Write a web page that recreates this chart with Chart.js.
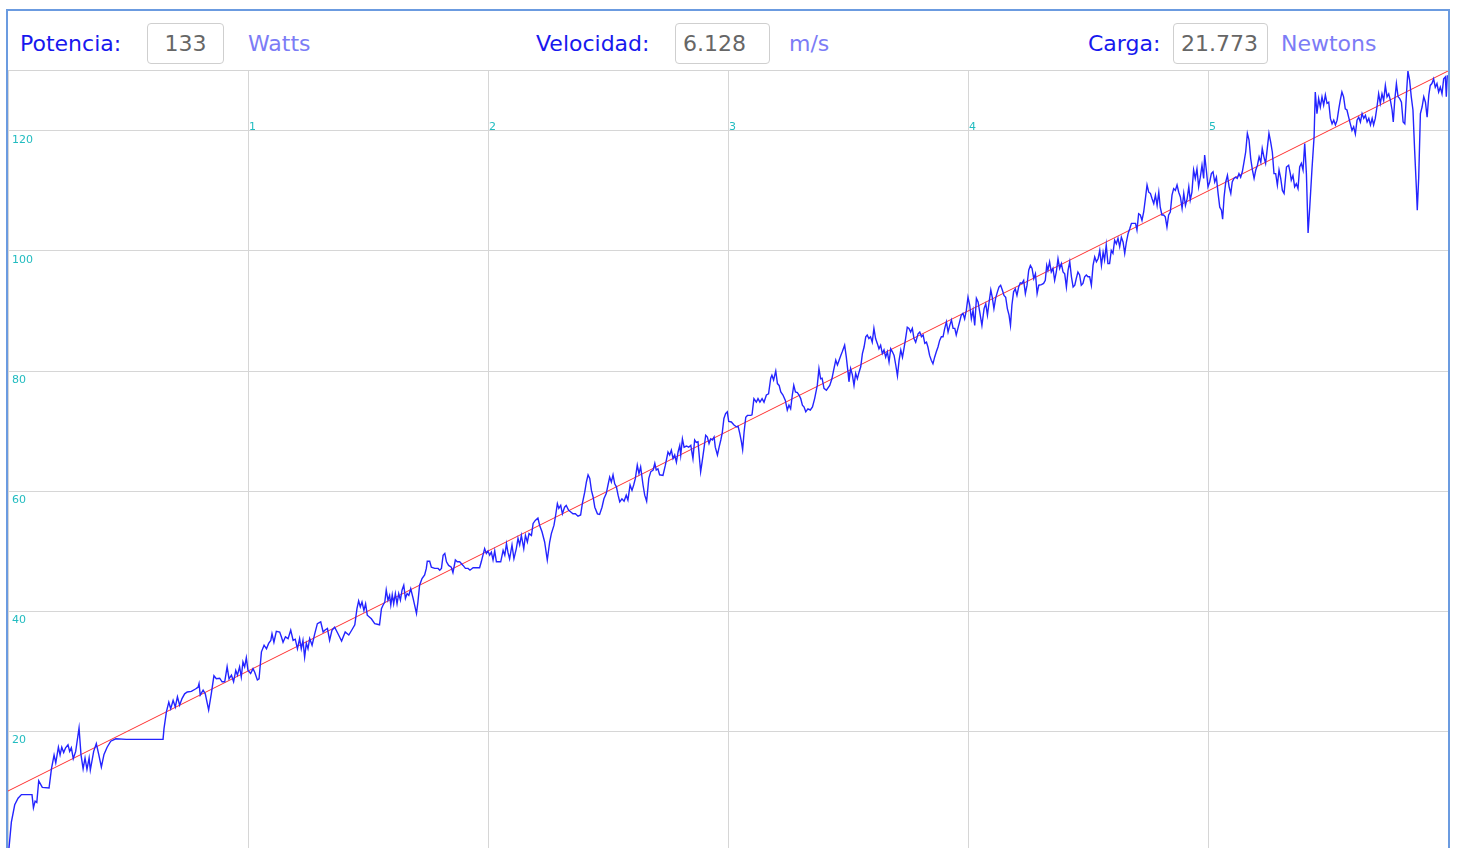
<!DOCTYPE html>
<html lang="es">
<head>
    <meta charset="UTF-8">
    <title>Potencia</title>
    <script src="https://cdn.jsdelivr.net/npm/chart.js"></script>
    <style>
        body {
            margin: 0;
            background: #fff;
            font-family: 'DejaVu Sans', sans-serif;
            width: 1457px;
            height: 848px;
            overflow: hidden;
            position: relative;
        }
        .marco {
            position: absolute;
            left: 6px;
            top: 9px;
            width: 1440px;
            height: 900px;
            border: 2px solid #6b9be0;
            border-bottom: none;
        }
        .divisor {
            position: absolute;
            left: 8px;
            top: 70px;
            width: 1440px;
            height: 1px;
            background: #d4d4d4;
        }
        .txt {
            position: absolute;
            top: 23px;
            line-height: 41px;
            font-size: 22px;
            white-space: nowrap;
        }
        .etq { color: #1818ee; }
        .uni { color: #7c7cf6; }
        .caja {
            position: absolute;
            top: 23px;
            height: 41px;
            box-sizing: border-box;
            border: 1px solid #cfcfcf;
            border-radius: 4px;
            line-height: 39px;
            font-size: 22px;
            color: #666;
            padding-left: 7px;
        }
        .grafico {
            position: absolute;
            left: 8px;
            top: 71px;
            width: 1440px;
            height: 780px;
        }
    </style>
</head>
<body>
    <div class="marco"></div>
    <span class="txt etq" style="left:20px">Potencia:</span>
    <div class="caja" style="left:147px;width:77px;padding-left:0;text-align:center">133</div>
    <span class="txt uni" style="left:248px">Watts</span>
    <span class="txt etq" style="left:536px">Velocidad:</span>
    <div class="caja" style="left:675px;width:95px">6.128</div>
    <span class="txt uni" style="left:789px">m/s</span>
    <span class="txt etq" style="left:1088px">Carga:</span>
    <div class="caja" style="left:1173px;width:95px">21.773</div>
    <span class="txt uni" style="left:1281px">Newtons</span>
    <div class="divisor"></div>
    <div class="grafico"><canvas id="grafica"></canvas></div>

    <script>
        // Serie medida (eje x en minutos, eje y en vatios)
        const tiempo = [
            0.003, 0.014, 0.028, 0.042, 0.056, 0.100, 0.106, 0.113, 0.120, 0.128,
            0.143, 0.171, 0.181, 0.192, 0.199, 0.210, 0.217, 0.224, 0.232, 0.240,
            0.250, 0.257, 0.264, 0.272, 0.282, 0.296, 0.304, 0.313, 0.321, 0.329,
            0.338, 0.343, 0.357, 0.368, 0.378, 0.389, 0.400, 0.413, 0.428, 0.449,
            0.493, 0.646, 0.650, 0.660, 0.670, 0.678, 0.688, 0.697, 0.706, 0.715,
            0.725, 0.736, 0.747, 0.764, 0.781, 0.792, 0.796, 0.801, 0.813, 0.822,
            0.836, 0.847, 0.858, 0.868, 0.882, 0.892, 0.903, 0.913, 0.921, 0.931,
            0.940, 0.949, 0.956, 0.965, 0.972, 0.979, 0.986, 0.993, 1.000, 1.011,
            1.021, 1.028, 1.039, 1.046, 1.056, 1.067, 1.077, 1.086, 1.095, 1.100,
            1.108, 1.118, 1.132, 1.139, 1.146, 1.156, 1.167, 1.178, 1.188, 1.197,
            1.206, 1.215, 1.222, 1.229, 1.236, 1.243, 1.250, 1.257, 1.267, 1.278,
            1.289, 1.303, 1.313, 1.320, 1.331, 1.340, 1.350, 1.361, 1.375, 1.390,
            1.405, 1.420, 1.435, 1.445, 1.454, 1.461, 1.468, 1.475, 1.483, 1.490,
            1.497, 1.514, 1.528, 1.548, 1.556, 1.563, 1.570, 1.576, 1.583, 1.590,
            1.595, 1.601, 1.607, 1.614, 1.621, 1.628, 1.635, 1.642, 1.649, 1.656,
            1.663, 1.670, 1.678, 1.688, 1.702, 1.708, 1.715, 1.725, 1.736, 1.743,
            1.747, 1.757, 1.764, 1.778, 1.792, 1.799, 1.806, 1.813, 1.820, 1.827,
            1.836, 1.847, 1.854, 1.864, 1.872, 1.882, 1.896, 1.906, 1.917, 1.925,
            1.938, 1.952, 1.965, 1.972, 1.979, 1.986, 1.993, 2.000, 2.007, 2.014,
            2.021, 2.028, 2.035, 2.053, 2.063, 2.070, 2.077, 2.083, 2.090, 2.100,
            2.108, 2.118, 2.125, 2.132, 2.139, 2.149, 2.156, 2.164, 2.171, 2.181,
            2.188, 2.197, 2.208, 2.215, 2.225, 2.236, 2.247, 2.257, 2.264, 2.275,
            2.282, 2.289, 2.295, 2.303, 2.310, 2.319, 2.326, 2.336, 2.345, 2.354,
            2.364, 2.375, 2.386, 2.393, 2.403, 2.410, 2.417, 2.424, 2.431, 2.438,
            2.445, 2.456, 2.465, 2.475, 2.483, 2.493, 2.500, 2.507, 2.514, 2.521,
            2.528, 2.535, 2.542, 2.549, 2.558, 2.567, 2.576, 2.583, 2.592, 2.600,
            2.607, 2.614, 2.622, 2.629, 2.636, 2.646, 2.653, 2.661, 2.670, 2.678,
            2.688, 2.695, 2.701, 2.708, 2.715, 2.729, 2.739, 2.750, 2.757, 2.764,
            2.771, 2.778, 2.785, 2.792, 2.799, 2.803, 2.810, 2.817, 2.827, 2.836,
            2.845, 2.854, 2.861, 2.868, 2.875, 2.886, 2.892, 2.900, 2.907, 2.914,
            2.921, 2.928, 2.935, 2.942, 2.947, 2.956, 2.963, 2.970, 2.976, 2.983,
            2.990, 2.997, 3.003, 3.014, 3.025, 3.035, 3.042, 3.049, 3.056, 3.061,
            3.067, 3.074, 3.081, 3.095, 3.100, 3.108, 3.118, 3.125, 3.133, 3.142,
            3.150, 3.160, 3.169, 3.178, 3.183, 3.190, 3.199, 3.206, 3.213, 3.220,
            3.229, 3.239, 3.247, 3.254, 3.261, 3.268, 3.274, 3.281, 3.289, 3.296,
            3.303, 3.310, 3.317, 3.324, 3.333, 3.343, 3.352, 3.361, 3.372, 3.379,
            3.386, 3.392, 3.400, 3.410, 3.424, 3.433, 3.440, 3.449, 3.456, 3.463,
            3.470, 3.476, 3.486, 3.493, 3.500, 3.504, 3.511, 3.518, 3.525, 3.532,
            3.539, 3.546, 3.553, 3.560, 3.567, 3.574, 3.580, 3.587, 3.594, 3.601,
            3.608, 3.615, 3.622, 3.629, 3.636, 3.643, 3.650, 3.657, 3.664, 3.671,
            3.678, 3.685, 3.692, 3.699, 3.706, 3.713, 3.720, 3.727, 3.733, 3.740,
            3.747, 3.754, 3.761, 3.768, 3.775, 3.782, 3.792, 3.799, 3.806, 3.813,
            3.820, 3.827, 3.833, 3.840, 3.847, 3.854, 3.861, 3.868, 3.875, 3.882,
            3.889, 3.896, 3.903, 3.910, 3.917, 3.924, 3.931, 3.938, 3.945, 3.951,
            3.958, 3.965, 3.972, 3.979, 3.986, 3.993, 4.000, 4.007, 4.014, 4.021,
            4.028, 4.035, 4.042, 4.049, 4.058, 4.067, 4.074, 4.081, 4.088, 4.095,
            4.101, 4.108, 4.115, 4.122, 4.129, 4.136, 4.143, 4.150, 4.157, 4.164,
            4.171, 4.177, 4.183, 4.190, 4.197, 4.204, 4.211, 4.218, 4.225, 4.232,
            4.239, 4.246, 4.253, 4.260, 4.267, 4.274, 4.281, 4.288, 4.295, 4.306,
            4.315, 4.322, 4.328, 4.333, 4.340, 4.347, 4.354, 4.361, 4.368, 4.375,
            4.382, 4.389, 4.396, 4.403, 4.410, 4.417, 4.424, 4.431, 4.438, 4.445,
            4.451, 4.458, 4.465, 4.472, 4.479, 4.486, 4.493, 4.500, 4.507, 4.514,
            4.521, 4.528, 4.535, 4.542, 4.549, 4.556, 4.563, 4.569, 4.576, 4.583,
            4.590, 4.597, 4.604, 4.611, 4.618, 4.625, 4.632, 4.639, 4.646, 4.653,
            4.660, 4.667, 4.674, 4.681, 4.698, 4.704, 4.711, 4.718, 4.725, 4.732,
            4.739, 4.746, 4.753, 4.760, 4.767, 4.774, 4.781, 4.788, 4.795, 4.801,
            4.808, 4.815, 4.822, 4.829, 4.836, 4.843, 4.850, 4.857, 4.864, 4.871,
            4.878, 4.885, 4.892, 4.899, 4.906, 4.913, 4.920, 4.926, 4.933, 4.940,
            4.947, 4.954, 4.961, 4.968, 4.975, 4.982, 4.986, 4.993, 5.000, 5.007,
            5.014, 5.021, 5.028, 5.035, 5.042, 5.049, 5.056, 5.061, 5.067, 5.074,
            5.081, 5.088, 5.095, 5.101, 5.108, 5.115, 5.122, 5.129, 5.136, 5.143,
            5.150, 5.157, 5.164, 5.171, 5.178, 5.185, 5.192, 5.199, 5.206, 5.213,
            5.220, 5.226, 5.233, 5.240, 5.247, 5.254, 5.261, 5.268, 5.275, 5.282,
            5.289, 5.296, 5.303, 5.310, 5.317, 5.327, 5.336, 5.343, 5.347, 5.354,
            5.361, 5.368, 5.375, 5.382, 5.389, 5.396, 5.403, 5.410, 5.417, 5.424,
            5.433, 5.442, 5.447, 5.454, 5.461, 5.468, 5.475, 5.482, 5.489, 5.496,
            5.503, 5.510, 5.517, 5.524, 5.531, 5.538, 5.545, 5.551, 5.558, 5.565,
            5.572, 5.579, 5.586, 5.593, 5.600, 5.607, 5.614, 5.621, 5.628, 5.635,
            5.642, 5.649, 5.656, 5.663, 5.670, 5.677, 5.684, 5.690, 5.697, 5.704,
            5.711, 5.718, 5.725, 5.732, 5.739, 5.746, 5.753, 5.760, 5.767, 5.772,
            5.778, 5.785, 5.792, 5.799, 5.806, 5.813, 5.820, 5.827, 5.833, 5.840,
            5.847, 5.854, 5.861, 5.868, 5.872, 5.878, 5.885, 5.892, 5.899, 5.906,
            5.913, 5.920, 5.926, 5.933, 5.940, 5.947, 5.954, 5.961, 5.968, 5.975,
            5.982, 5.989, 5.993, 5.997
        ];
        const potencia = [
            0, 4.8, 7.7, 8.8, 9.4, 9.4, 7.2, 8.3, 8.1, 11.7,
            10.6, 10.5, 13.7, 16.0, 14.7, 17.3, 16.0, 17.3, 16.4, 17.2,
            17.7, 16.6, 17.2, 15.4, 16.6, 20.5, 16.1, 13.7, 15.5, 13.6,
            15.5, 13.5, 16.6, 17.9, 16.1, 14.0, 16.1, 17.3, 18.3, 18.7,
            18.6, 18.6, 20.4, 23.2, 24.8, 23.7, 25.1, 24.0, 25.7, 24.3,
            25.4, 26.2, 26.5, 26.6, 27.0, 27.3, 27.9, 26.0, 26.8, 26.2,
            23.5, 26.2, 29.2, 28.7, 28.8, 28.2, 28.2, 30.7, 28.7, 29.3,
            28.2, 30.1, 29.3, 30.7, 29.0, 31.5, 30.7, 32.2, 30.1, 29.6,
            30.4, 29.8, 28.5, 28.7, 33.2, 34.3, 33.7, 34.6, 35.1, 36.2,
            34.8, 36.6, 36.5, 35.7, 34.8, 35.7, 35.4, 36.8, 35.1, 35.3,
            33.7, 35.4, 33.7, 35.1, 32.3, 34.6, 33.7, 35.4, 34.3, 36.2,
            37.9, 38.2, 36.5, 36.8, 37.1, 35.1, 36.8, 37.3, 36.2, 35.0,
            36.5, 36.0, 37.0, 37.7, 40.4, 41.7, 40.7, 41.5, 40.1, 41.2,
            39.3, 38.7, 37.9, 37.7, 40.4, 41.0, 41.5, 43.5, 41.8, 42.6,
            41.0, 42.7, 41.2, 42.9, 41.2, 42.9, 41.8, 43.5, 44.3, 42.1,
            42.9, 42.6, 43.7, 42.1, 39.6, 41.5, 44.3, 45.4, 46.0, 47.1,
            48.3, 48.3, 47.3, 47.1, 47.1, 46.8, 47.1, 49.3, 49.6, 48.2,
            47.6, 47.3, 46.4, 48.5, 48.2, 48.2, 47.6, 47.1, 47.1, 46.8,
            47.2, 47.2, 47.2, 48.2, 49.3, 50.4, 49.6, 50.0, 49.3, 49.8,
            48.5, 50.0, 48.2, 48.2, 50.1, 49.3, 51.2, 49.8, 48.7, 51.0,
            48.7, 50.4, 52.1, 51.0, 52.6, 50.4, 52.6, 51.5, 52.9, 52.6,
            54.6, 55.1, 55.5, 54.3, 53.2, 51.5, 48.5, 51.5, 52.9, 54.3,
            56.0, 57.9, 57.1, 57.6, 56.2, 57.3, 57.6, 56.8, 56.5, 56.2,
            56.2, 55.8, 56.0, 57.9, 59.8, 61.5, 62.7, 62.1, 60.1, 59.0,
            57.3, 56.2, 56.1, 57.3, 58.7, 59.6, 61.0, 62.3, 61.5, 62.7,
            61.2, 60.7, 59.3, 58.2, 58.7, 58.3, 59.3, 58.5, 61.0, 60.1,
            61.0, 62.1, 64.3, 62.9, 64.0, 61.0, 59.3, 58.3, 62.1, 63.2,
            63.5, 64.6, 63.5, 63.7, 62.7, 62.6, 64.3, 66.5, 66.0, 66.8,
            65.4, 66.0, 64.8, 66.5, 67.6, 66.0, 68.7, 67.3, 67.5, 67.3,
            67.6, 65.4, 68.5, 68.1, 68.2, 63.2, 64.8, 67.1, 69.3, 69.0,
            67.9, 68.7, 68.5, 69.0, 67.3, 66.0, 67.3, 68.5, 69.7, 72.1,
            72.9, 73.2, 71.6, 71.5, 71.0, 70.7, 70.8, 69.6, 68.2, 66.9,
            69.8, 72.3, 72.6, 72.6, 72.7, 75.4, 74.8, 75.4, 74.8, 75.4,
            74.8, 76.0, 76.2, 78.8, 79.3, 78.5, 80.0, 77.9, 77.6, 76.5,
            76.0, 75.1, 73.5, 74.3, 73.7, 76.0, 77.6, 76.5, 76.4, 76.0,
            75.4, 74.3, 74.0, 73.2, 73.7, 73.5, 74.0, 75.4, 77.6, 80.4,
            78.7, 78.8, 77.1, 76.8, 77.6, 78.7, 80.1, 81.8, 81.0, 81.8,
            82.6, 83.2, 84.3, 82.3, 79.8, 78.2, 80.4, 79.4, 77.6, 79.6,
            78.7, 79.8, 80.7, 82.9, 84.0, 85.7, 86.0, 85.4, 85.7, 84.8,
            87.1, 85.4, 84.6, 83.7, 84.3, 82.9, 83.5, 82.3, 83.2, 81.5,
            83.7, 83.2, 82.6, 81.0, 79.2, 81.8, 83.5, 82.3, 83.7, 85.4,
            87.3, 87.1, 86.5, 87.1, 85.4, 84.8, 86.2, 86.5, 85.7, 86.0,
            84.6, 84.8, 84.0, 82.6, 81.8, 81.2, 82.3, 83.2, 84.0, 85.1,
            85.7, 85.7, 87.1, 88.2, 86.5, 87.6, 88.5, 87.1, 87.1, 86.0,
            87.1, 88.2, 89.3, 89.6, 88.7, 90.1, 92.3, 91.0, 88.7, 90.1,
            87.6, 92.1, 91.5, 89.8, 87.6, 90.4, 91.2, 89.3, 91.5, 93.5,
            92.3, 90.4, 92.1, 93.1, 94.0, 94.3, 93.5, 92.6, 92.3, 90.4,
            89.3, 87.6, 91.0, 93.2, 93.7, 92.6, 94.0, 94.7, 94.6, 95.1,
            92.9, 94.3, 96.8, 97.6, 97.1, 95.4, 96.2, 92.9, 94.3, 94.4,
            94.6, 95.1, 97.6, 96.8, 98.2, 96.5, 97.1, 95.1, 96.5, 98.7,
            97.1, 97.9, 96.5, 96.2, 94.0, 96.8, 98.2, 95.7, 94.0, 94.3,
            95.4, 96.5, 96.0, 94.3, 94.6, 95.7, 96.0, 95.7, 95.7, 94.3,
            97.6, 99.0, 98.2, 98.7, 100.1, 97.6, 99.8, 98.5, 101.0, 97.9,
            97.9, 100.1, 99.6, 101.8, 101.2, 102.1, 100.7, 102.3, 101.5, 99.6,
            101.5, 102.9, 103.7, 104.6, 104.6, 103.5, 106.2, 106.0, 105.1, 106.5,
            108.7, 111.0, 109.8, 109.6, 108.7, 107.9, 109.3, 107.6, 109.8, 107.3,
            106.0, 106.0, 105.7, 104.0, 106.0, 106.5, 109.3, 110.4, 110.1, 111.0,
            109.8, 109.0, 107.1, 109.6, 107.6, 108.7, 110.7, 108.5, 109.8, 113.5,
            112.1, 113.7, 110.7, 112.3, 114.3, 112.1, 116.0, 113.5, 110.7, 111.5,
            112.9, 113.2, 111.5, 112.3, 109.6, 107.3, 106.8, 105.3, 109.0, 111.5,
            112.6, 110.7, 109.6, 111.5, 112.1, 112.3, 112.1, 112.9, 112.3, 113.2,
            114.8, 116.5, 119.6, 118.5, 115.4, 113.5, 112.1, 113.5, 114.3, 115.7,
            114.8, 117.1, 115.7, 114.6, 117.1, 119.6, 118.2, 116.5, 112.9, 112.9,
            111.0, 113.5, 112.1, 110.1, 109.6, 114.0, 114.3, 112.9, 111.8, 112.6,
            110.7, 111.2, 110.4, 114.0, 114.6, 113.5, 117.9, 112.9, 103.0, 107.3,
            113.5, 119.0, 126.5, 122.9, 125.4, 124.0, 125.7, 124.3, 126.0, 124.6,
            124.8, 122.1, 121.2, 121.8, 121.0, 121.8, 123.7, 125.1, 126.5, 125.7,
            123.7, 123.5, 122.3, 121.2, 120.1, 120.7, 119.5, 121.8, 122.3, 121.5,
            122.9, 122.1, 122.6, 121.5, 122.1, 121.0, 122.1, 121.0, 122.1, 124.0,
            126.2, 124.6, 126.2, 125.1, 127.6, 125.7, 126.2, 125.1, 123.5, 121.5,
            125.1, 127.9, 125.7, 125.4, 124.8, 121.5, 121.2, 126.2, 130.0, 128.5,
            125.7, 123.5, 116.8, 110.7, 106.8, 112.3, 122.9, 124.0, 125.7, 124.8,
            122.3, 126.0, 127.6, 127.9, 128.7, 127.3, 127.9, 126.5, 127.3, 126.2,
            128.7, 129.0, 125.7, 129.3
        ];

        // Recta de ajuste (extremos)
        const ajusteX = [0, 6];
        const ajusteY = [10, 130];

        // Marcas de los ejes
        const marcasX = [0, 1, 2, 3, 4, 5, 6];
        const etiquetasX = [1, 2, 3, 4, 5];
        const marcasY = [0, 20, 40, 60, 80, 100, 120];
        const etiquetasY = [20, 40, 60, 80, 100, 120];

        const colorEtiqueta = '#22bcc0';

        // dibuja los numeros de los ejes dentro del area del grafico
        const numerosEjes = {
            id: 'numerosEjes',
            beforeDatasetsDraw(chart) {
                const { ctx, chartArea } = chart;
                const x = chart.scales.x;
                const y = chart.scales.y;
                ctx.save();
                ctx.font = '11px "DejaVu Sans"';
                ctx.fillStyle = colorEtiqueta;
                ctx.textBaseline = 'alphabetic';
                etiquetasY.forEach(v => {
                    ctx.fillText(String(v), chartArea.left + 4, y.getPixelForValue(v) + 11.5);
                });
                const arriba = y.getPixelForValue(120) - 1.5;
                etiquetasX.forEach(v => {
                    ctx.fillText(String(v), x.getPixelForValue(v) + 1, arriba);
                });
                ctx.restore();
            }
        };

        new Chart(document.getElementById('grafica'), {
            type: 'line',
            data: {
                datasets: [
                    {
                        label: 'Potencia',
                        data: tiempo.map((t, i) => ({ x: t, y: potencia[i] })),
                        borderColor: '#2424ff',
                        borderWidth: 1.4,
                        pointRadius: 0,
                        tension: 0
                    },
                    {
                        label: 'Ajuste',
                        data: ajusteX.map((t, i) => ({ x: t, y: ajusteY[i] })),
                        borderColor: '#ff3030',
                        borderWidth: 1,
                        pointRadius: 0
                    }
                ]
            },
            options: {
                responsive: true,
                maintainAspectRatio: false,
                animation: false,
                layout: { padding: 0, autoPadding: false },
                plugins: {
                    legend: { display: false },
                    tooltip: { enabled: false }
                },
                scales: {
                    x: {
                        type: 'linear',
                        min: 0,
                        max: 6,
                        afterBuildTicks: s => { s.ticks = marcasX.map(v => ({ value: v })); },
                        ticks: { display: false },
                        grid: { color: '#d6d6d6', drawTicks: false },
                        border: { display: false }
                    },
                    y: {
                        min: 0,
                        max: 130,
                        afterBuildTicks: s => { s.ticks = marcasY.map(v => ({ value: v })); },
                        ticks: { display: false },
                        grid: { color: '#d6d6d6', drawTicks: false },
                        border: { display: false }
                    }
                }
            },
            plugins: [numerosEjes]
        });
    </script>
</body>
</html>
